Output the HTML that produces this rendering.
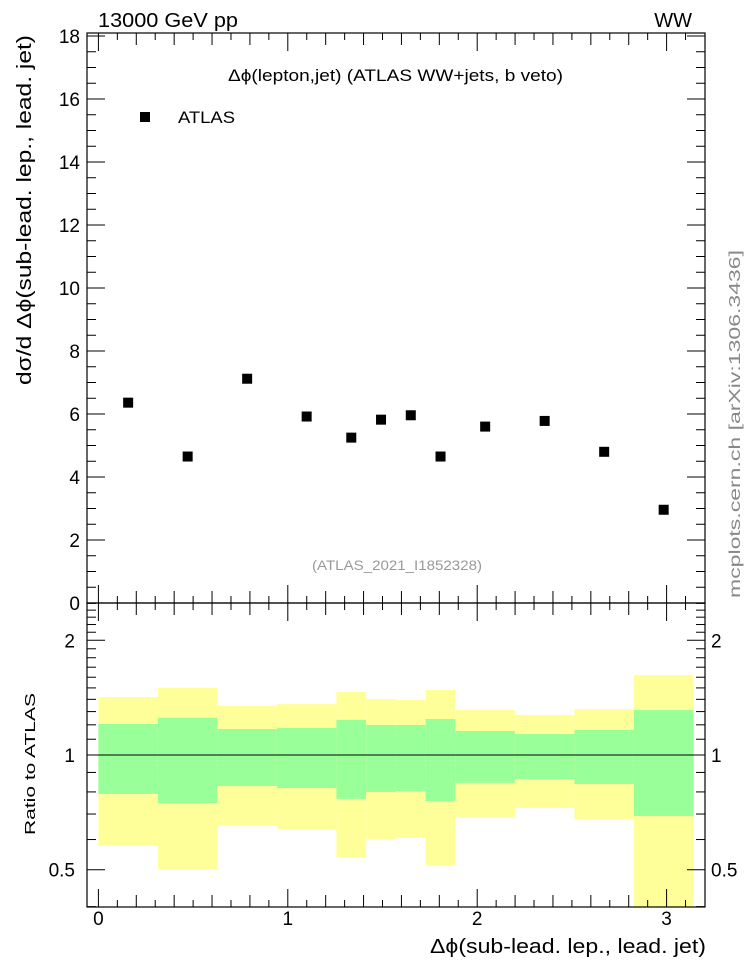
<!DOCTYPE html>
<html><head><meta charset="utf-8"><style>
html,body{margin:0;padding:0;background:#fff;}
svg{display:block;font-family:"Liberation Sans",Arial,sans-serif;}
</style></head><body>
<svg id="c" width="746" height="972" viewBox="0 0 746 972" xmlns="http://www.w3.org/2000/svg">
<text x="98" y="27" font-size="20" textLength="140" lengthAdjust="spacingAndGlyphs">13000 GeV pp</text>
<text x="692" y="27" font-size="20" text-anchor="end">WW</text>
<text x="228" y="81" font-size="17" textLength="335" lengthAdjust="spacingAndGlyphs">Δϕ(lepton,jet) (ATLAS WW+jets, b veto)</text>
<rect x="140" y="112" width="10" height="10" fill="#000"/>
<text x="178" y="123" font-size="17" textLength="57" lengthAdjust="spacingAndGlyphs">ATLAS</text>
<text x="312" y="570" font-size="14" fill="#999" textLength="170" lengthAdjust="spacingAndGlyphs">(ATLAS_2021_I1852328)</text>
<text transform="translate(740,598) rotate(-90)" font-size="16" fill="#888" textLength="348" lengthAdjust="spacingAndGlyphs">mcplots.cern.ch [arXiv:1306.3436]</text>
<text transform="translate(31,385) rotate(-90)" font-size="20" textLength="350" lengthAdjust="spacingAndGlyphs">dσ/d Δϕ(sub-lead. lep., lead. jet)</text>
<text transform="translate(35,835) rotate(-90)" font-size="15" textLength="142" lengthAdjust="spacingAndGlyphs">Ratio to ATLAS</text>
<text x="430" y="953" font-size="20" textLength="276" lengthAdjust="spacingAndGlyphs">Δϕ(sub-lead. lep., lead. jet)</text>
<g id="bands"></g><g id="axes"></g><g id="pts"></g>
</svg>
<script>
const binEdges=[0,0.31416,0.62832,0.94248,1.25664,1.41372,1.5708,1.72788,1.88496,2.19911,2.51327,2.82743,3.14159];
const dataValues=[6.36,4.65,7.12,5.92,5.25,5.82,5.96,4.65,5.6,5.78,4.8,2.96];
const yellowHi=[1.42,1.5,1.345,1.36,1.463,1.403,1.394,1.481,1.312,1.274,1.32,1.622];
const greenHi=[1.206,1.253,1.17,1.177,1.236,1.199,1.199,1.243,1.156,1.135,1.163,1.312];
const greenLo=[0.79,0.748,0.829,0.819,0.767,0.8,0.804,0.757,0.845,0.865,0.839,0.692];
const yellowLo=[0.58,0.502,0.655,0.639,0.538,0.6,0.607,0.514,0.688,0.726,0.679,0.3];
const mainYTicks=[0,2,4,6,8,10,12,14,16,18];
const ratioYTicks=[0.5,1,2];
const xTicks=[0,1,2,3];
const NS='http://www.w3.org/2000/svg';
const L=87,R=705,T=33,MB=603,RB=907;
const X=v=>98.4+v*189.4;
const Y=v=>603-v*31.5;
const YR=v=>755-114.7*Math.log2(v);
function mk(tag,attrs,parent){const e=document.createElementNS(NS,tag);for(const k in attrs)e.setAttribute(k,attrs[k]);parent.appendChild(e);return e;}
const bands=document.getElementById('bands'),axes=document.getElementById('axes'),pts=document.getElementById('pts');
function clampR(y){return Math.min(RB,Math.max(MB,y));}
for(let i=0;i<dataValues.length;i++){
  const x0=X(binEdges[i]),x1=X(binEdges[i+1]);
  const yb=mk('rect',{x:x0,y:clampR(YR(yellowHi[i])),width:x1-x0,height:clampR(YR(yellowLo[i]))-clampR(YR(yellowHi[i])),fill:'#ffff99'},bands);
  
  
  const gb=mk('rect',{x:x0,y:YR(greenHi[i]),width:x1-x0,height:YR(greenLo[i])-YR(greenHi[i]),fill:'#99ff99'},bands);
  
  
  const cx=(x0+x1)/2;
  const p=mk('rect',{x:cx-5,y:Y(dataValues[i])-5,width:10,height:10,fill:'#000'},pts);
  
  
}
const ref=mk('line',{x1:L,x2:R,y1:YR(1),y2:YR(1),stroke:'#000','stroke-width':1},axes);


[[T,MB],[MB,RB]].forEach(([t,b],j)=>{
  const f=mk('rect',{x:L,y:t,width:R-L,height:b-t,fill:'none',stroke:'#000','stroke-width':1.2},axes);
  
  
});
function tick(x1,y1,x2,y2){mk('line',{x1,y1,x2,y2,stroke:'#000','stroke-width':1},axes);}
for(let k=0;k<=31;k++){const v=k/10;const x=X(v);if(x>R)break;
  const len=(k%10===0)?18:(k%2===0?12:7);
  tick(x,MB,x,MB-len);tick(x,T,x,T+len);tick(x,RB,x,RB-len);tick(x,MB,x,MB+len);}
for(let k=0;k<=36;k++){const v=k/2;const y=Y(v);const len=(k%4===0)?18:9;tick(L,y,L+len,y);tick(R,y,R-len,y);}
mainYTicks.forEach(v=>{const t=mk('text',{x:80,y:Y(v)+7,'font-size':19,'text-anchor':'end'},axes);t.textContent=v;
  
  });
const rt=[0.4,0.5,0.6,0.7,0.8,0.9,1,1.1,1.2,1.3,1.4,1.5,1.6,1.7,1.8,1.9,2,2.1,2.2,2.3,2.4,2.5];
rt.forEach(v=>{const y=YR(v);if(y<MB||y>RB)return;const len=(v===0.5||v===1||v===2)?18:9;tick(L,y,L+len,y);tick(R,y,R-len,y);});
ratioYTicks.forEach(v=>{
  const t=mk('text',{x:75,y:YR(v)+7,'font-size':19,'text-anchor':'end'},axes);t.textContent=v;
  
  
  const t2=mk('text',{x:711,y:YR(v)+7,'font-size':19},axes);t2.textContent=v;
  
  });
xTicks.forEach(v=>{const t=mk('text',{x:X(v),y:925,'font-size':19,'text-anchor':'middle'},axes);t.textContent=v;
  
  });
</script>
</body></html>
